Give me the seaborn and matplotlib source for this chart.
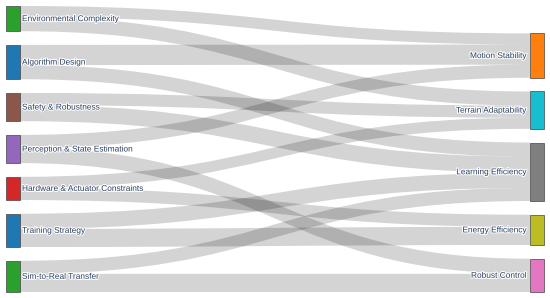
import matplotlib
matplotlib.use("Agg")
import matplotlib.pyplot as plt
import seaborn as sns
from matplotlib.path import Path
from matplotlib.patches import PathPatch, Rectangle
import matplotlib.patheffects as pe

# ---------------- data ----------------
source_labels = ["Environmental Complexity", "Algorithm Design", "Safety & Robustness",
                 "Perception & State Estimation", "Hardware & Actuator Constraints",
                 "Training Strategy", "Sim-to-Real Transfer"]
target_labels = ["Motion Stability", "Terrain Adaptability", "Learning Efficiency",
                 "Energy Efficiency", "Robust Control"]
source_colors = ["#2ca02c", "#1f77b4", "#8c564b", "#9467bd", "#d62728", "#1f77b4", "#2ca02c"]
target_colors = ["#ff7f0e", "#17becf", "#7f7f7f", "#bcbd22", "#e377c2"]

link_source = ["Environmental Complexity", "Environmental Complexity",
               "Algorithm Design", "Algorithm Design",
               "Safety & Robustness", "Safety & Robustness",
               "Perception & State Estimation", "Perception & State Estimation",
               "Hardware & Actuator Constraints", "Hardware & Actuator Constraints",
               "Training Strategy", "Training Strategy",
               "Sim-to-Real Transfer", "Sim-to-Real Transfer"]
link_target = ["Motion Stability", "Terrain Adaptability",
               "Motion Stability", "Learning Efficiency",
               "Terrain Adaptability", "Learning Efficiency",
               "Motion Stability", "Robust Control",
               "Terrain Adaptability", "Energy Efficiency",
               "Learning Efficiency", "Energy Efficiency",
               "Learning Efficiency", "Robust Control"]
link_value = [11, 14, 20, 14, 12, 16, 13, 15, 11, 12, 15, 18, 13, 18]

# ---------------- layout ----------------
sns.set_theme(style="white")
plt.rcParams["font.family"] = ["Liberation Sans", "DejaVu Sans"]

W, H = 550, 298
fig = plt.figure(figsize=(W / 100, H / 100), dpi=100)
ax = fig.add_axes([0, 0, 1, 1])
ax.set_xlim(0, W)
ax.set_ylim(H, 0)
ax.axis("off")

top, bottom = 6.0, 292.0
pad = 13.7
node_w = 14.0
col_x = [6.0, 530.0]

def node_value(name):
    out = sum(v for s, v in zip(link_source, link_value) if s == name)
    inn = sum(v for t, v in zip(link_target, link_value) if t == name)
    return max(out, inn)

cols = [source_labels, target_labels]
col_colors = [source_colors, target_colors]
ky = min((bottom - top - (len(c) - 1) * pad) / sum(node_value(n) for n in c) for c in cols)

nodes = {}
for ci, col in enumerate(cols):
    total = sum(node_value(n) for n in col) * ky + (len(col) - 1) * pad
    y = top if ci == 0 else bottom - total
    for n, colr in zip(col, col_colors[ci]):
        h = node_value(n) * ky
        nodes[n] = dict(x0=col_x[ci], x1=col_x[ci] + node_w, y0=y, y1=y + h, color=colr, col=ci)
        y += h + pad

# links: order at source by target position, at target by source position
links = list(zip(link_source, link_target, link_value))
src_off = {n: nodes[n]["y0"] for n in source_labels}
tgt_off = {n: nodes[n]["y0"] for n in target_labels}
link_geom = {}
for s in source_labels:
    outs = sorted([l for l in links if l[0] == s], key=lambda l: nodes[l[1]]["y0"])
    for l in outs:
        link_geom.setdefault(l, {})["sy"] = src_off[s]
        src_off[s] += l[2] * ky
for t in target_labels:
    ins = sorted([l for l in links if l[1] == t], key=lambda l: nodes[l[0]]["y0"])
    for l in ins:
        link_geom[l]["ty"] = tgt_off[t]
        tgt_off[t] += l[2] * ky

for l in links:
    s, t, v = l
    h = v * ky
    xs = nodes[s]["x1"]
    xt = nodes[t]["x0"]
    xm = (xs + xt) / 2
    sy, ty = link_geom[l]["sy"], link_geom[l]["ty"]
    verts = [(xs, sy), (xm, sy), (xm, ty), (xt, ty),
             (xt, ty + h), (xm, ty + h), (xm, sy + h), (xs, sy + h), (xs, sy)]
    codes = [Path.MOVETO, Path.CURVE4, Path.CURVE4, Path.CURVE4,
             Path.LINETO, Path.CURVE4, Path.CURVE4, Path.CURVE4, Path.CLOSEPOLY]
    ax.add_patch(PathPatch(Path(verts, codes), facecolor=(0, 0, 0, 0.17),
                           edgecolor="none", lw=0))

for n, d in nodes.items():
    ax.add_patch(Rectangle((d["x0"], d["y0"]), d["x1"] - d["x0"], d["y1"] - d["y0"],
                           facecolor=d["color"], edgecolor="#444444", lw=0.5))
    yc = (d["y0"] + d["y1"]) / 2
    if d["col"] == 0:
        tx, ha = d["x1"] + 2, "left"
    else:
        tx, ha = d["x0"] - 2.5, "right"
    ax.text(tx, yc, n, ha=ha, va="center_baseline", fontsize=6.0, color="#2a3f5f",
            path_effects=[pe.withStroke(linewidth=1.5, foreground="white")])

fig.savefig("out.png", dpi=100)
